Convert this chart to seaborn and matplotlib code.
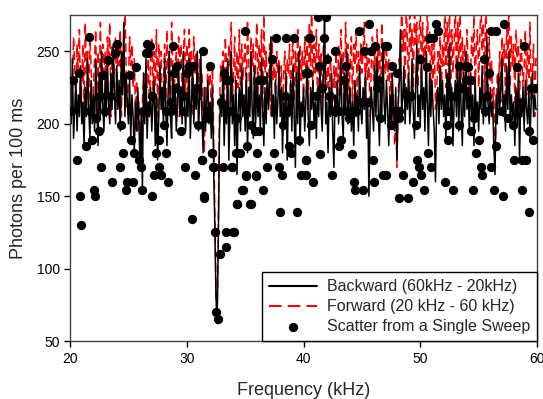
import numpy as np
import pandas as pd
import matplotlib
matplotlib.use("Agg")
import matplotlib.pyplot as plt
import seaborn as sns

# Frequency grid (kHz) for the two averaged sweeps
freq = np.round(np.arange(20.0, 60.0001, 0.1), 1)

backward = [
    215, 200, 245, 190, 210, 230, 195, 220, 205, 240,
    200, 215, 185, 225, 205, 245, 210, 190, 230, 200,
    220, 195, 245, 210, 185, 235, 205, 250, 215, 195,
    230, 205, 245, 215, 200, 235, 210, 255, 220, 200,
    240, 210, 230, 195, 250, 220, 270, 205, 235, 215,
    200, 230, 190, 220, 205, 180, 215, 195, 225, 200,
    170, 210, 155, 235, 200, 245, 190, 215, 205, 225,
    195, 215, 230, 185, 220, 175, 205, 240, 210, 225,
    200, 245, 210, 185, 220, 250, 205, 190, 240, 210,
    225, 195, 215, 240, 205, 225, 200, 250, 215, 195,
    220, 205, 245, 190, 215, 240, 200, 225, 210, 250,
    195, 215, 250, 205, 180, 225, 195, 215, 230, 200,
    215, 190, 225, 170, 130, 80, 65, 120, 195, 220,
    205, 240, 185, 215, 200, 245, 175, 210, 250, 200,
    220, 185, 230, 165, 210, 225, 195, 240, 205, 220,
    195, 235, 180, 225, 205, 250, 210, 190, 240, 200,
    230, 205, 220, 195, 245, 210, 185, 225, 200, 235,
    210, 225, 260, 205, 220, 190, 230, 200, 215, 240,
    205, 225, 180, 215, 200, 235, 175, 220, 205, 230,
    195, 240, 205, 170, 235, 200, 250, 185, 215, 205,
    225, 195, 215, 240, 205, 185, 225, 210, 230, 200,
    215, 190, 225, 205, 240, 210, 195, 230, 280, 200,
    215, 180, 225, 205, 235, 195, 170, 220, 205, 230,
    200, 215, 245, 205, 190, 235, 210, 250, 200, 215,
    225, 195, 215, 185, 230, 205, 220, 195, 240, 210,
    200, 225, 210, 235, 190, 215, 150, 200, 225, 210,
    195, 240, 205, 245, 210, 185, 225, 205, 255, 215,
    200, 230, 210, 185, 220, 200, 235, 210, 195, 225,
    175, 210, 230, 265, 205, 220, 240, 200, 225, 210,
    235, 200, 215, 245, 210, 190, 225, 255, 205, 220,
    200, 245, 210, 225, 195, 250, 215, 185, 235, 205,
    230, 210, 195, 160, 215, 225, 200, 240, 210, 230,
    205, 220, 190, 235, 210, 255, 200, 225, 185, 215,
    230, 205, 245, 195, 240, 210, 185, 235, 205, 250,
    210, 225, 195, 235, 205, 220, 185, 230, 205, 215,
    195, 225, 210, 240, 200, 220, 205, 260, 215, 200,
    225, 205, 215, 185, 165, 220, 200, 235, 210, 225,
    245, 205, 220, 195, 240, 210, 250, 200, 220, 205,
    215, 185, 225, 200, 235, 175, 215, 205, 225, 195,
    230, 210, 200, 225, 190, 215, 235, 205, 220, 210,
    210,
]

forward = [
    235, 205, 225, 260, 240, 210, 255, 235, 265, 215,
    230, 255, 200, 270, 235, 250, 210, 260, 240, 205,
    225, 245, 265, 205, 250, 220, 270, 215, 255, 235,
    250, 210, 260, 240, 270, 205, 255, 225, 245, 260,
    215, 255, 240, 265, 205, 250, 225, 285, 240, 210,
    230, 260, 240, 255, 225, 245, 210, 230, 195, 215,
    185, 175, 215, 235, 205, 240, 225, 250, 205, 245,
    260, 215, 250, 225, 265, 205, 255, 230, 250, 210,
    225, 255, 210, 265, 235, 250, 205, 270, 240, 220,
    235, 250, 205, 260, 240, 255, 215, 245, 265, 220,
    255, 210, 265, 240, 250, 205, 260, 235, 250, 215,
    230, 245, 215, 235, 200, 180, 225, 210, 240, 225,
    235, 210, 240, 195, 140, 85, 62, 130, 210, 240,
    230, 250, 210, 260, 240, 205, 255, 240, 270, 215,
    235, 260, 205, 250, 225, 265, 215, 255, 230, 245,
    255, 215, 270, 245, 210, 260, 240, 255, 205, 250,
    270, 220, 255, 230, 265, 205, 275, 235, 250, 215,
    225, 255, 205, 260, 230, 245, 215, 250, 235, 245,
    220, 240, 195, 235, 250, 210, 245, 235, 255, 215,
    245, 260, 215, 250, 225, 265, 210, 255, 230, 250,
    215, 260, 235, 255, 210, 270, 240, 285, 220, 255,
    235, 265, 210, 255, 230, 250, 205, 260, 235, 245,
    225, 250, 215, 245, 230, 205, 240, 225, 250, 210,
    255, 220, 265, 235, 250, 205, 270, 240, 255, 215,
    245, 260, 210, 255, 240, 265, 215, 250, 225, 255,
    235, 250, 270, 215, 255, 230, 245, 205, 240, 260,
    230, 250, 210, 265, 235, 255, 215, 270, 240, 250,
    235, 255, 230, 245, 215, 235, 200, 220, 185, 205,
    170, 215, 245, 230, 285, 250, 265, 220, 285, 255,
    220, 285, 250, 265, 215, 285, 255, 270, 225, 260,
    285, 230, 270, 240, 260, 215, 285, 250, 265, 225,
    255, 230, 260, 210, 220, 250, 235, 265, 215, 255,
    240, 285, 225, 270, 240, 285, 220, 265, 235, 255,
    285, 225, 270, 245, 285, 220, 260, 235, 255, 215,
    265, 240, 215, 230, 260, 245, 275, 220, 255, 265,
    225, 260, 285, 250, 270, 220, 285, 255, 215, 260,
    230, 245, 210, 225, 170, 205, 235, 220, 250, 215,
    260, 240, 255, 215, 270, 245, 285, 225, 260, 240,
    255, 215, 265, 245, 255, 210, 260, 245, 225, 240,
    265, 220, 255, 230, 270, 215, 235, 255, 205, 245,
    240,
]

# Single-sweep scatter points (kHz, photons)
scatter_x = [
    21.63, 24.06, 23.86, 23.26, 25.63, 25.12, 22.83, 20.78, 20.26, 22.57,
    23.43, 20.12, 21.69, 22.97, 26.29, 22.26, 24.40, 22.49, 21.92, 25.23,
    21.35, 24.54, 25.49, 20.57, 25.92, 22.69, 24.26, 26.05, 23.63, 24.92,
    25.35, 22.06, 24.83, 26.14, 20.83, 22.14, 20.95,
    26.60, 26.50, 26.83, 28.83, 26.72, 31.35, 29.20, 30.20, 30.55, 31.98,
    28.92, 29.98, 33.20, 33.35, 29.06, 30.83, 26.98, 29.78, 32.92, 28.63,
    28.26, 28.63, 29.69, 31.69, 26.49, 31.78, 28.06, 30.98, 29.49, 27.63,
    27.35, 28.20, 32.15, 31.26, 27.63, 29.86, 32.29, 27.20, 27.78, 30.69,
    28.40, 27.06, 31.49, 30.43, 32.43, 33.40, 33.97, 33.34, 32.83, 32.54,
    32.71, 32.28, 33.10, 31.48, 34.26, 35.50, 34.77, 35.10, 35.90, 33.90,
    31.26, 32.17, 34.54,
    34.97, 37.68, 38.54, 39.20, 40.43, 37.34, 40.20, 33.63, 36.20, 36.54,
    38.40, 33.77, 38.68, 34.34, 35.48, 38.25, 35.85, 36.20, 39.63, 35.20,
    38.77, 34.20, 36.05, 37.48, 38.94, 40.20, 33.85, 36.83, 37.91, 35.11,
    35.91, 38.14, 39.77, 34.85, 36.54, 34.28, 35.43, 38.00, 39.43, 34.05,
    41.26, 41.91, 44.77, 45.63, 40.54, 41.77, 46.14, 47.00, 42.69, 45.20,
    45.77, 41.97, 41.34, 43.63, 40.34, 43.49, 46.40, 41.57, 46.29, 41.06,
    42.20, 44.91, 45.49, 43.06, 43.71, 44.49, 42.63, 46.54, 43.91, 40.63,
    43.20, 43.06, 41.43, 44.14, 40.20, 45.91, 40.20, 42.43, 46.77, 40.77,
    44.29, 46.06, 44.40, 45.11,
    51.34, 51.54, 50.76, 51.11, 47.19, 49.99, 47.62, 50.54, 47.99, 53.28,
    53.90, 53.90, 53.56, 48.82, 49.19, 52.62, 53.05, 47.85, 48.19, 52.39,
    48.19, 47.48, 49.62, 52.28, 53.34, 52.34, 50.62, 49.68, 49.85, 50.91,
    47.05, 48.54, 50.05, 49.34, 52.14, 50.34, 52.76, 48.19, 48.91,
    57.20, 56.05, 56.48, 58.91, 55.48, 54.05, 58.25, 55.85, 54.34, 59.48,
    59.91, 55.68, 58.48, 56.91, 55.57, 57.48, 54.62, 57.91, 54.34, 59.34,
    55.05, 59.62, 56.48, 54.77, 57.99, 58.71, 59.05, 55.20, 56.05, 55.28,
    54.54, 56.28, 58.71, 57.05, 59.28,
]
scatter_y = [
    260, 255, 249, 244, 239, 234, 234, 235, 230, 219,
    219, 209, 209, 209, 209, 204, 199, 195, 189, 189,
    185, 180, 180, 175, 175, 170, 170, 170, 160, 160,
    160, 154, 154, 154, 150, 150, 130,
    255, 249, 254, 254, 249, 250, 240, 240, 240, 240,
    235, 235, 235, 230, 225, 225, 219, 219, 215, 215,
    209, 209, 209, 209, 209, 204, 199, 199, 195, 189,
    180, 180, 180, 175, 170, 170, 170, 165, 165, 165,
    160, 150, 150, 134, 125, 125, 125, 115, 110, 70,
    65, 170, 170, 149, 145, 145, 154, 164, 164, 170,
    175, 180, 180,
    264, 259, 259, 259, 259, 245, 235, 230, 230, 230,
    219, 209, 209, 204, 199, 199, 195, 195, 189, 185,
    185, 180, 180, 180, 180, 175, 170, 170, 170, 165,
    165, 165, 165, 154, 154, 145, 145, 139, 139, 125,
    274, 274, 264, 269, 259, 259, 254, 254, 250, 250,
    250, 245, 240, 240, 235, 230, 230, 225, 225, 219,
    219, 215, 215, 209, 209, 209, 209, 204, 204, 199,
    189, 185, 179, 179, 175, 175, 165, 165, 165, 160,
    160, 160, 154, 154,
    269, 264, 259, 259, 254, 245, 240, 239, 235, 240,
    240, 230, 225, 219, 219, 219, 219, 209, 209, 209,
    204, 199, 199, 199, 199, 189, 180, 175, 170, 170,
    165, 165, 165, 160, 160, 154, 154, 149, 149,
    269, 264, 264, 254, 245, 239, 239, 235, 230, 225,
    225, 219, 215, 209, 209, 204, 204, 199, 195, 195,
    189, 189, 185, 180, 175, 175, 175, 170, 170, 165,
    154, 154, 154, 150, 139,
]

series_names = ["Backward (60kHz - 20kHz)", "Forward (20 kHz - 60 kHz)"]
scatter_name = "Scatter from a Single Sweep"

sns.set_style("ticks")
plt.rcParams["font.family"] = ["Liberation Sans", "DejaVu Sans"]

fig = plt.figure(figsize=(5.43, 3.99), dpi=100)
ax = fig.add_axes([0.129, 0.145, 0.860, 0.817])

df_b = pd.DataFrame({"f": freq, "v": backward})
df_f = pd.DataFrame({"f": freq, "v": forward})
df_s = pd.DataFrame({"f": scatter_x, "v": scatter_y})

sns.lineplot(data=df_b, x="f", y="v", ax=ax, color="black", lw=1.1,
             estimator=None, sort=False, label=series_names[0], zorder=2)
sns.lineplot(data=df_f, x="f", y="v", ax=ax, color="#ff0000", lw=1.1,
             estimator=None, sort=False, label=series_names[1], zorder=1)
ax.lines[-1].set_dashes([6, 3])
sns.scatterplot(data=df_s, x="f", y="v", ax=ax, color="black", s=45,
                edgecolor="black", linewidth=0, label=scatter_name, zorder=3)

ax.set_xlim(20, 60)
ax.set_ylim(50, 275)
ax.set_xticks([20, 30, 40, 50, 60])
ax.set_yticks([50, 100, 150, 200, 250])
ax.tick_params(axis="both", direction="out", length=4, width=1, labelsize=10,
               colors="black")
for sp in ax.spines.values():
    sp.set_visible(True)
    sp.set_color("#444444")
    sp.set_linewidth(1.0)

ax.set_xlabel("Frequency (kHz)", fontsize=13, labelpad=12)
ax.set_ylabel("Photons per 100 ms", fontsize=13, labelpad=7)

leg = ax.legend(loc="lower right", fontsize=11.5, frameon=True, fancybox=False,
                edgecolor="black", framealpha=1, borderaxespad=0,
                handlelength=3.0, handletextpad=0.6, borderpad=0.45,
                labelspacing=0.3)
leg.get_frame().set_linewidth(1.0)
for h in leg.legend_handles[:2]:
    h.set_linewidth(1.5)

fig.savefig("out.png", dpi=100)
